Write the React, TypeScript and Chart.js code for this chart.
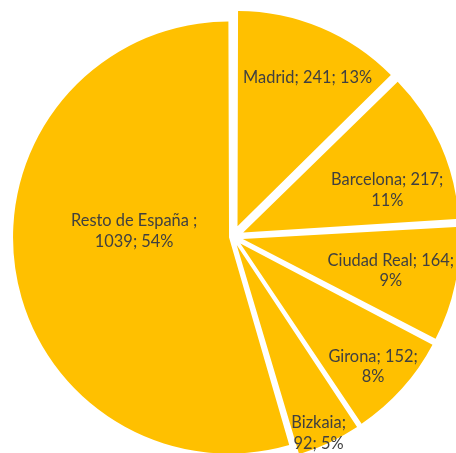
import React, { useEffect, useRef } from "react";
import { Chart, registerables } from "chart.js";

Chart.register(...registerables);

// ---- data ----
const categories = ["Madrid", "Barcelona", "Ciudad Real", "Girona", "Bizkaia", "Resto de España "];
const values = [241, 217, 164, 152, 92, 1039];
const percentLabels = ["13%", "11%", "9%", "8%", "5%", "54%"];

// ---- styling / label layout (not data) ----
const firstLineParts = [3, 2, 2, 2, 1, 1];
// desired explosion distance of each slice in pixels
const explodePx = [15, 15, 15, 15, 15, 8];
const labelRadiusFrac = [0.76, 0.69, 0.69, 0.83, 0.94, 0.43];
const labelAngleShiftDeg = [2.5, 7.8, 0, 1, 1.6, 12.5];
const SLICE_COLOR = "#FFC000";
const TEXT_COLOR = "#404040";
const FONT = "16.4px Lato";
const LINE_H = 20.5;
const RADIUS = 212;

// Chart.js moves an arc by (offset/4) * (2 - sin(min(PI, circumference)))
const total = values.reduce((s, v) => s + v, 0);
const explodeFactor = values.map((v) => 2 - Math.sin(Math.min(Math.PI, (v / total) * 2 * Math.PI)));
const sliceOffsets = explodePx.map((p, i) => (p * 4) / explodeFactor[i]);

const labelPlugin = {
  id: "sliceLabels",
  afterDatasetsDraw(chart: any) {
    const ctx = chart.ctx;
    const meta = chart.getDatasetMeta(0);
    ctx.save();
    ctx.font = FONT;
    ctx.fillStyle = TEXT_COLOR;
    ctx.textAlign = "center";
    ctx.textBaseline = "middle";
    meta.data.forEach((arc: any, i: number) => {
      const { x, y, startAngle, endAngle, outerRadius } = arc.getProps(
        ["x", "y", "startAngle", "endAngle", "outerRadius"],
        true
      );
      const mid = (startAngle + endAngle) / 2;
      const off = explodePx[i];
      const ax = x + Math.cos(mid) * off;
      const ay = y + Math.sin(mid) * off;
      const a = mid + (labelAngleShiftDeg[i] * Math.PI) / 180;
      const r = labelRadiusFrac[i] * outerRadius;
      const lx = ax + Math.cos(a) * r;
      const ly = ay + Math.sin(a) * r;
      const parts = [categories[i], String(values[i]), percentLabels[i]];
      const n = firstLineParts[i];
      const lines: string[] = [];
      if (n >= 3) {
        lines.push(parts.join("; "));
      } else {
        lines.push(parts.slice(0, n).join("; ") + ";");
        lines.push(parts.slice(n).join("; "));
      }
      const startY = ly - ((lines.length - 1) * LINE_H) / 2;
      lines.forEach((t, k) => ctx.fillText(t, lx, startY + k * LINE_H));
    });
    ctx.restore();
  },
};

export default function App() {
  const canvasRef = useRef<HTMLCanvasElement | null>(null);

  useEffect(() => {
    document.body.style.overflow = "hidden";
    const canvas = canvasRef.current;
    if (!canvas) return;
    const chart = new Chart(canvas, {
      type: "pie",
      data: {
        labels: categories,
        datasets: [
          {
            data: values,
            backgroundColor: SLICE_COLOR,
            borderWidth: 0,
            offset: sliceOffsets,
            hoverOffset: 0,
            clip: false,
          } as any,
        ],
      },
      options: {
        animation: false,
        responsive: true,
        maintainAspectRatio: false,
        radius: RADIUS,
        layout: { padding: { left: 10, top: 21, right: 0, bottom: 0 } },
        plugins: {
          legend: { display: false },
          tooltip: { enabled: false },
        },
      } as any,
      plugins: [labelPlugin],
    });
    return () => chart.destroy();
  }, []);

  return (
    <div style={{ position: "absolute", left: 0, top: 0, width: 456, height: 453, background: "#fff" }}>
      <canvas ref={canvasRef} />
    </div>
  );
}
